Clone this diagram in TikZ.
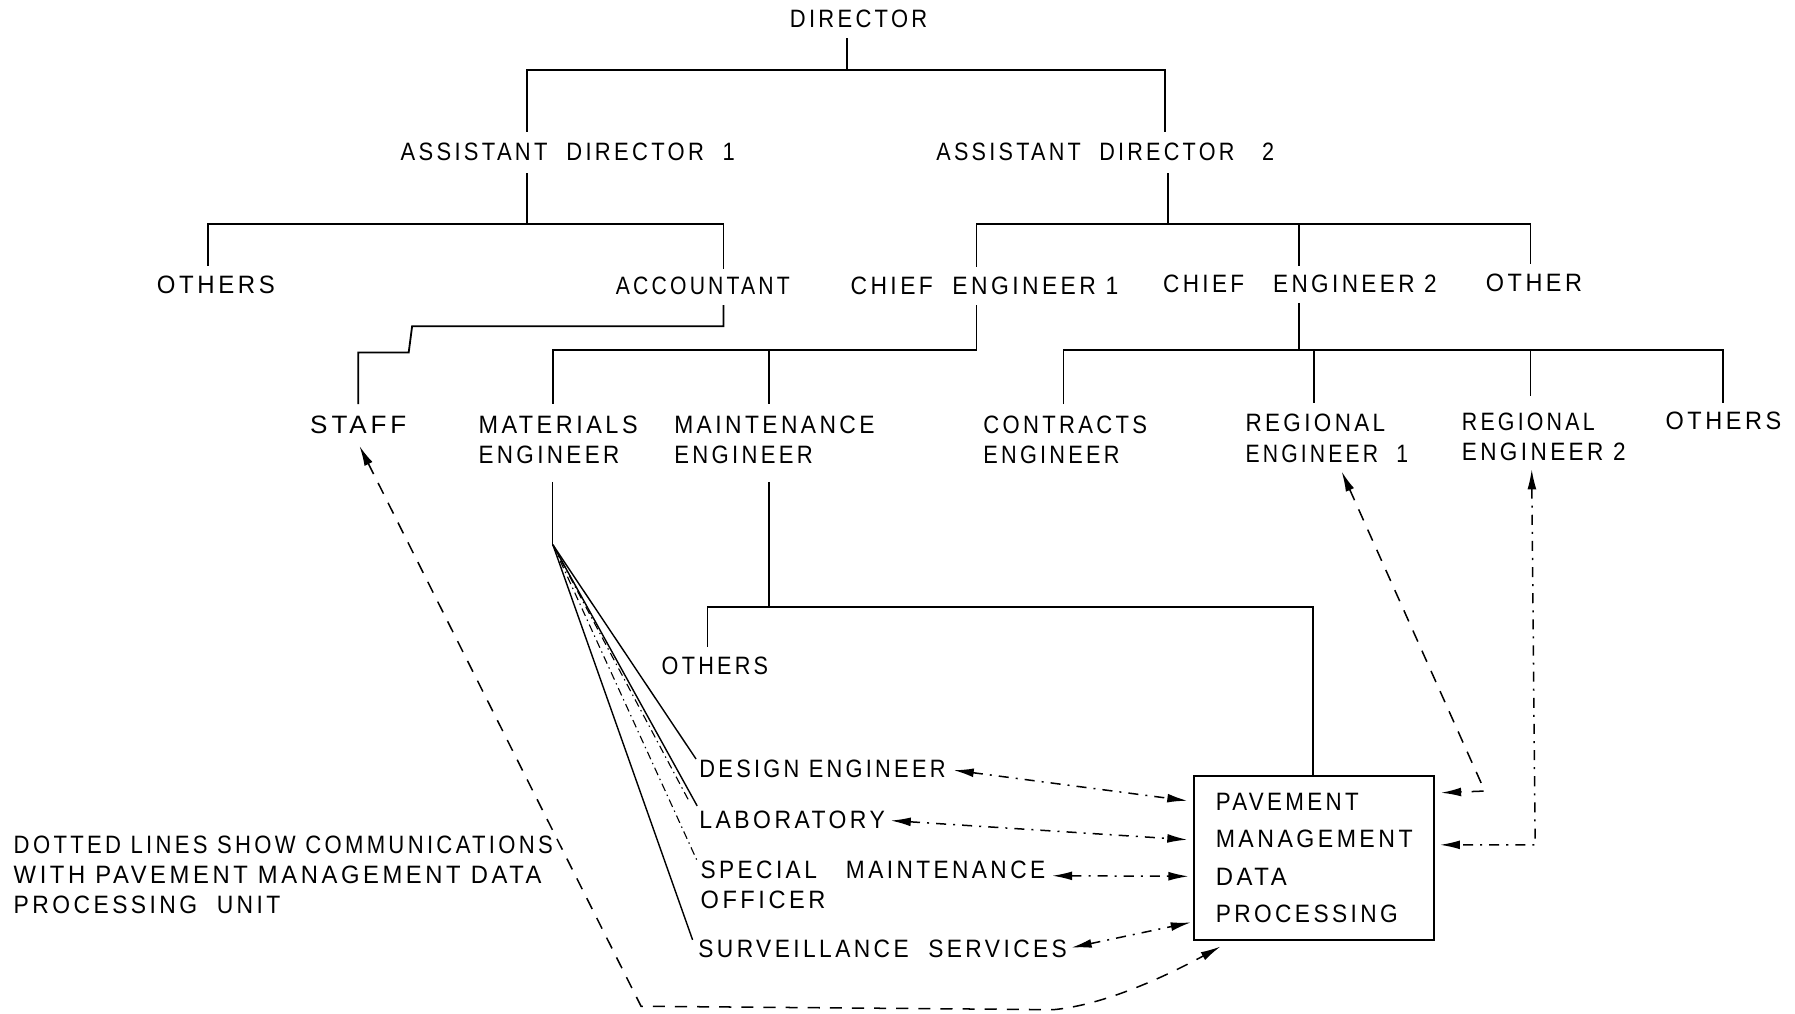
\documentclass[tikz,border=0pt]{standalone}
\usepackage{graphicx}
\usepackage{fontspec}
\setmainfont{Liberation Sans}[LetterSpace=15]
\usetikzlibrary{arrows.meta,calc}
% one drawing unit
\newlength\pxu
\setlength\pxu{0.02cm}
% text set to a given width (in drawing units)
\newcommand\fw[2]{\resizebox{#1\pxu}{\height}{#2}}

\begin{document}
\begin{tikzpicture}[x=0.02cm,y=-0.02cm,
  >={Latex[length=10pt,width=4.4pt]},
  lbl/.style={inner sep=0pt, outer sep=0pt, anchor=north west, align=left,
              font=\fontsize{12.5}{15}\selectfont},
  tree/.style={line width=0.9pt},
  thinline/.style={line width=0.5pt},
  fanline/.style={line width=0.55pt, dash pattern=on 4pt off 2pt on 0.7pt off 2pt},
  comm/.style={line width=0.75pt, dash pattern=on 5pt off 3.5pt on 1pt off 3.5pt},
  commlong/.style={line width=0.75pt, dash pattern=on 6pt off 5pt},
]
\fill[white] (0,0) rectangle (1568,885);
\useasboundingbox (0,0) rectangle (1568,885);

% ---------- labels ----------
\node[lbl] (dir)  at (690,9)    {\fw{120}{DIRECTOR}};
\node[lbl] (ad1)  at (350,125)  {\fw{292}{ASSISTANT\ \ DIRECTOR\ \ 1}};
\node[lbl] (ad2)  at (818,125)  {\fw{295}{ASSISTANT\ \ DIRECTOR\ \ \ 2}};
\node[lbl] (oth1) at (137,241)  {\fw{103}{OTHERS}};
\node[lbl] (acc)  at (538,242)  {\fw{152}{ACCOUNTANT}};
\node[lbl] (ce1)  at (743,242)  {\fw{234}{CHIEF\ \ ENGINEER\ 1}};
\node[lbl] (ce2)  at (1016,240) {\fw{239}{CHIEF\ \ \ ENGINEER\ 2}};
\node[lbl] (oth2) at (1298,239) {\fw{84}{OTHER}};
\node[lbl] (staff) at (271,363) {\fw{84}{STAFF}};
\node[lbl] (mat)  at (418,363)  {\fw{139}{MATERIALS}\\\fw{123}{ENGINEER}};
\node[lbl] (mnt)  at (589,363)  {\fw{175}{MAINTENANCE}\\\fw{121}{ENGINEER}};
\node[lbl] (con)  at (859,363)  {\fw{143}{CONTRACTS}\\\fw{119}{ENGINEER}};
\node[lbl] (reg1) at (1088,362) {\fw{122}{REGIONAL}\\\fw{142}{ENGINEER\ \ 1}};
\node[lbl] (reg2) at (1277,361) {\fw{116}{REGIONAL}\\\fw{143}{ENGINEER\ 2}};
\node[lbl] (oth3) at (1455,360) {\fw{101}{OTHERS}};
\node[lbl] (oth4) at (578,574)  {\fw{93}{OTHERS}};
\node[lbl] (des)  at (611,664)  {\fw{215}{DESIGN\ ENGINEER}};
\node[lbl] (lab)  at (611,708)  {\fw{162}{LABORATORY}};
\node[lbl] (spec) at (612,752)  {\fw{301}{SPECIAL\ \ \ MAINTENANCE}\\\fw{109}{OFFICER}};
\node[lbl] (surv) at (610,821)  {\fw{322}{SURVEILLANCE\ \ SERVICES}};
\node[lbl] (note) at (12,730)   {\fw{471}{DOTTED LINES SHOW COMMUNICATIONS}\\
                                 \fw{461}{WITH PAVEMENT MANAGEMENT DATA}\\
                                 \fw{233}{PROCESSING\ \ UNIT}};

% data processing unit
\node[draw, line width=0.9pt, minimum width=4.2cm, minimum height=2.86cm,
      inner sep=0pt, align=left, font=\fontsize{12.5}{18.7}\selectfont]
      (pm) at (1148,749.5)
      {\fw{125}{PAVEMENT}\\\fw{172}{MANAGEMENT}\\\fw{62}{DATA}\\\fw{159}{PROCESSING}};

% ---------- organisation tree ----------
% director
\coordinate (j1) at (740,61);
\coordinate (j1l) at (460,61);
\coordinate (j1r) at (1018,61);
\draw[tree] ($(dir.south -| j1)+(0,9)$) -- (j1);
\draw[tree] ($(ad1.north -| j1l)+(0,-10)$) |- (j1r) -- ($(ad2.north -| j1r)+(0,-10)$);

% assistant director 1
\coordinate (j2) at (460,196);
\coordinate (j2l) at (182,196);
\coordinate (j2r) at (632,196);
\draw[tree] ($(ad1.south -| j2)+(0,11)$) -- (j2);
\draw[tree] ($(oth1.north -| j2l)+(0,-9)$) |- (j2r) -- ($(acc.north -| j2r)+(0,-7)$);

% assistant director 2
\coordinate (j3) at (1020,196);
\coordinate (j3l) at (853,196);
\coordinate (j3m) at (1135,196);
\coordinate (j3r) at (1337,196);
\draw[tree] ($(ad2.south -| j3)+(0,11)$) -- (j3);
\draw[tree] ($(ce1.north -| j3l)+(0,-9)$) |- (j3r) -- ($(oth2.north -| j3r)+(0,-8)$);
\draw[tree] (j3m) -- ($(ce2.north -| j3m)+(0,-8)$);

% accountant to staff
\coordinate (k1) at (632,285);
\coordinate (k2) at (360,285);
\coordinate (k3) at (357,308);
\draw[tree] ($(acc.south -| k1)+(0,9)$) -- (k1) -- (k2) -- (k3) -| ($(staff.north)+(0,-10)$);

% chief engineer 1
\coordinate (j4) at (853,306);
\coordinate (j4l) at (483,306);
\coordinate (j4m) at (672,306);
\draw[tree] ($(ce1.south -| j4)+(0,9)$) -- (j4) -| ($(mat.north -| j4l)+(0,-10)$);
\draw[tree] (j4m) -- ($(mnt.north -| j4m)+(0,-10)$);

% chief engineer 2
\coordinate (j5) at (1135,306);
\coordinate (j5l) at (929,306);
\coordinate (j5a) at (1148,306);
\coordinate (j5b) at (1337,306);
\coordinate (j5r) at (1505,306);
\draw[tree] ($(ce2.south -| j5)+(0,9)$) -- (j5);
\draw[tree] ($(con.north -| j5l)+(0,-10)$) |- (j5r) -- ($(oth3.north -| j5r)+(0,-8)$);
\draw[tree] (j5a) -- ($(reg1.north -| j5a)+(0,-10)$);
\draw[tree] (j5b) -- ($(reg2.north -| j5b)+(0,-15)$);

% maintenance engineer
\coordinate (j6) at (672,530);
\coordinate (j6l) at (618,530);
\coordinate (j6r) at (1147,530);
\draw[tree] ($(mnt.south -| j6)+(0,16)$) -- (j6);
\draw[tree] ($(oth4.north -| j6l)+(0,-9)$) |- (j6r) -- (pm.north -| j6r);

% materials engineer fan
\coordinate (fan) at (483,476);
\draw[thinline] ($(mat.south -| fan)+(0,16)$) -- (fan);
\draw[tree, line width=0.7pt] (fan) -- ($(des.north west)+(-3,-1)$);
\draw[fanline] (fan) -- ($(lab.north west)+(-9,-8)$);
\draw[tree, line width=0.7pt] (fan) -- ($(lab.north west)+(-2,-4)$);
\draw[fanline] (fan) -- ($(spec.north west)+(-3,0)$);
\draw[tree, line width=0.7pt] (fan) -- ($(surv.north west)+(-5,0)$);

% ---------- communication lines ----------
\draw[comm,<->] ($(des.east)+(7,1)$) -- ($(pm.west)+(-5,-50)$);
\draw[comm,<->] ($(lab.east)+(5,1)$) -- ($(pm.west)+(-5,-16)$);
\draw[comm,<->] ($(spec.north east)+(6,13)$) -- ($(pm.west)+(-4,16)$);
\draw[comm,<->] ($(surv.east)+(4,-1)$) -- ($(pm.south west)+(-2,-16)$);

\coordinate (s1) at (560,879);
\coordinate (s2) at (920,882);
\draw[commlong,<->] ($(staff.south)+(1,11)$) -- (s1) -- (s2)
   .. controls (965,878) and (1020,852) .. ($(pm.south west)+(24,5)$);

\coordinate (c1) at (1297,691);
\coordinate (c2) at (1341,738);
\draw[commlong,<->] ($(reg1.south)+(13,8)$) -- (c1) -- ($(pm.east)+(5,-57)$);
\draw[comm,<->] ($(reg2.south)+(-10.5,7)$) -- (c2) -- ($(pm.east)+(4,-11.5)$);
\end{tikzpicture}
\end{document}
